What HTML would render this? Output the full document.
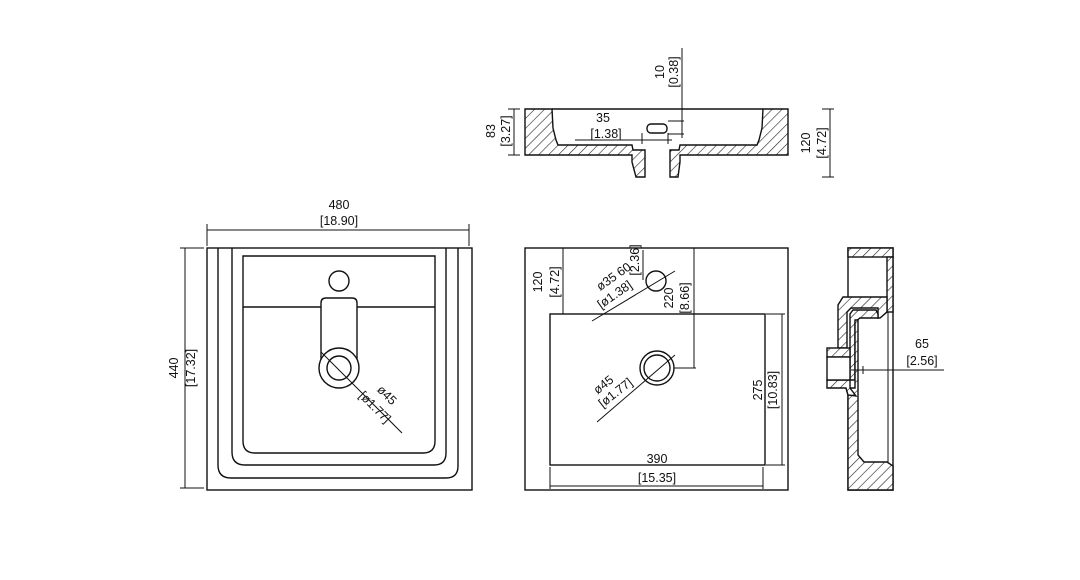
<!DOCTYPE html>
<html><head><meta charset="utf-8"><style>
html,body{margin:0;padding:0;background:#fff;width:1080px;height:580px;overflow:hidden}
svg{display:block}
text{font-family:"Liberation Sans",sans-serif;font-size:12.5px;fill:#111}
</style></head><body>
<svg width="1080" height="580" viewBox="0 0 1080 580" xmlns="http://www.w3.org/2000/svg">
<defs>
<pattern id="h" width="7" height="7" patternUnits="userSpaceOnUse" patternTransform="rotate(45)">
<rect width="7" height="7" fill="#fff"/><line x1="0" y1="0" x2="0" y2="7" stroke="#222" stroke-width="1.2"/>
</pattern>
</defs>
<g fill="none" stroke="#111" stroke-width="1.4">
<!-- TOP SECTION -->
<path d="M525,109 H552 L553,128 L556,140 L558,145 H632 L633,150 H645 V177 H636 L632,162 V155 H525 Z" fill="url(#h)"/>
<path d="M788,109 H763 L762,128 L759,140 L757,145 H680 L679,150 H670 V177 H678 L680,162 V155 H788 Z" fill="url(#h)"/>
<line x1="552" y1="109" x2="763" y2="109"/>
<rect x="647" y="124" width="20" height="9" rx="4"/>
<line x1="682" y1="48" x2="682" y2="138" stroke-width="1"/>
<line x1="668" y1="121" x2="684" y2="121" stroke-width="1"/>
<line x1="668" y1="134" x2="684" y2="134" stroke-width="1"/>
<line x1="575" y1="140" x2="672" y2="140" stroke-width="1"/>
<line x1="642" y1="133" x2="642" y2="144" stroke-width="1"/>
<line x1="668" y1="133" x2="668" y2="144" stroke-width="1"/>
<line x1="514" y1="109" x2="514" y2="155" stroke-width="1"/>
<line x1="508" y1="109" x2="520" y2="109" stroke-width="1"/>
<line x1="508" y1="155" x2="520" y2="155" stroke-width="1"/>
<line x1="830" y1="109" x2="830" y2="177" stroke-width="1"/>
<line x1="822" y1="109" x2="834" y2="109" stroke-width="1"/>
<line x1="822" y1="177" x2="834" y2="177" stroke-width="1"/>

<!-- LEFT PLAN -->
<rect x="207" y="248" width="265" height="242"/>
<path d="M218,248 V465 Q218,478 231,478 H446 Q458,478 458,466 V248"/>
<path d="M232,248 V452 Q232,465 245,465 H434 Q446,465 446,453 V248"/>
<path d="M243,256 H435 V441 Q435,453 423,453 H255 Q243,453 243,441 Z"/>
<path d="M243,307 H321 M357,307 H435"/>
<circle cx="339" cy="281" r="10"/>
<path d="M321,364 V303 Q321,298 326,298 H352 Q357,298 357,303 V364"/>
<circle cx="339" cy="368" r="20" fill="#fff"/>
<circle cx="339" cy="368" r="12"/>
<line x1="321" y1="352" x2="402" y2="433" stroke-width="1"/>
<line x1="207" y1="230" x2="469" y2="230" stroke-width="1"/>
<line x1="207" y1="224" x2="207" y2="246" stroke-width="1"/>
<line x1="469" y1="224" x2="469" y2="246" stroke-width="1"/>
<line x1="185" y1="248" x2="185" y2="488" stroke-width="1"/>
<line x1="180" y1="248" x2="204" y2="248" stroke-width="1"/>
<line x1="180" y1="488" x2="204" y2="488" stroke-width="1"/>

<!-- MIDDLE PLAN -->
<rect x="525" y="248" width="263" height="242"/>
<rect x="550" y="314" width="215" height="151"/>
<line x1="563" y1="248" x2="563" y2="314" stroke-width="1"/>
<line x1="694" y1="248" x2="694" y2="368" stroke-width="1"/>
<line x1="674" y1="368" x2="696" y2="368" stroke-width="1"/>
<line x1="643" y1="250" x2="643" y2="280" stroke-width="1"/>
<circle cx="656" cy="281" r="10"/>
<line x1="592" y1="321" x2="675" y2="271" stroke-width="1"/>
<circle cx="657" cy="368" r="17"/>
<circle cx="657" cy="368" r="13"/>
<line x1="597" y1="422" x2="675" y2="355" stroke-width="1"/>
<line x1="782" y1="314" x2="782" y2="465" stroke-width="1"/>
<line x1="766" y1="314" x2="785" y2="314" stroke-width="1"/>
<line x1="766" y1="465" x2="785" y2="465" stroke-width="1"/>
<line x1="550" y1="486" x2="763" y2="486" stroke-width="1"/>
<line x1="550" y1="467" x2="550" y2="489" stroke-width="1"/>
<line x1="763" y1="467" x2="763" y2="489" stroke-width="1"/>

<!-- SIDE SECTION -->
<path d="M848,297 V248 H893 V490 H848 V395"/>
<rect x="848" y="248" width="45" height="9" fill="url(#h)"/>
<rect x="887" y="257" width="6" height="55" fill="url(#h)"/>
<path d="M838,348 V305 L843,297 H887 V312 L880,318 H878 V308 H851 L847,312 V348 Z" fill="url(#h)"/>
<path d="M850,380 V314 L853,310 H876 L878,314 V318 H860 L855,322 V380 Z" fill="url(#h)"/>
<path d="M846,388 L848,395 V490 H893 V466 L887,462 H864 L858,455 V320 H855 V388 Z" fill="url(#h)"/>
<rect x="827" y="348" width="23" height="9" fill="url(#h)"/>
<path d="M827,380 H850 V388 L856,396 L848,395 L846,388 H827 Z" fill="url(#h)"/>
<rect x="827" y="357" width="23" height="23" fill="#fff"/>
<line x1="888" y1="312" x2="888" y2="462" stroke-width="1"/>
<line x1="851" y1="370" x2="944" y2="370" stroke-width="1"/>
<line x1="863" y1="366" x2="863" y2="374" stroke-width="1"/>
<line x1="888" y1="366" x2="888" y2="374" stroke-width="1"/>
</g>
<g>
<text x="339" y="209" text-anchor="middle">480</text>
<text x="339" y="225" text-anchor="middle">[18.90]</text>
<text transform="translate(178,368) rotate(-90)" text-anchor="middle">440</text>
<text transform="translate(195,368) rotate(-90)" text-anchor="middle">[17.32]</text>
<text transform="translate(384,398) rotate(45)" text-anchor="middle">ø45</text>
<text transform="translate(372,410) rotate(45)" text-anchor="middle">[ø1.77]</text>
<text x="603" y="122" text-anchor="middle">35</text>
<text x="606" y="138" text-anchor="middle">[1.38]</text>
<text transform="translate(664,72) rotate(-90)" text-anchor="middle">10</text>
<text transform="translate(678,72) rotate(-90)" text-anchor="middle">[0.38]</text>
<text transform="translate(495,131) rotate(-90)" text-anchor="middle">83</text>
<text transform="translate(510,131) rotate(-90)" text-anchor="middle">[3.27]</text>
<text transform="translate(810,143) rotate(-90)" text-anchor="middle">120</text>
<text transform="translate(826,143) rotate(-90)" text-anchor="middle">[4.72]</text>
<text transform="translate(542,282) rotate(-90)" text-anchor="middle">120</text>
<text transform="translate(559,282) rotate(-90)" text-anchor="middle">[4.72]</text>
<text transform="translate(616,280) rotate(-35)" text-anchor="middle">ø35 60</text>
<text transform="translate(617,298) rotate(-35)" text-anchor="middle">[ø1.38]</text>
<text transform="translate(639,260) rotate(-90)" text-anchor="middle">[2.36]</text>
<text transform="translate(673,298) rotate(-90)" text-anchor="middle">220</text>
<text transform="translate(689,298) rotate(-90)" text-anchor="middle">[8.66]</text>
<text transform="translate(606,388) rotate(-38)" text-anchor="middle">ø45</text>
<text transform="translate(618,396) rotate(-38)" text-anchor="middle">[ø1.77]</text>
<text transform="translate(762,390) rotate(-90)" text-anchor="middle">275</text>
<text transform="translate(777,390) rotate(-90)" text-anchor="middle">[10.83]</text>
<text x="657" y="463" text-anchor="middle">390</text>
<text x="657" y="482" text-anchor="middle">[15.35]</text>
<text x="922" y="348" text-anchor="middle">65</text>
<text x="922" y="365" text-anchor="middle">[2.56]</text>
</g>
</svg>
</body></html>
